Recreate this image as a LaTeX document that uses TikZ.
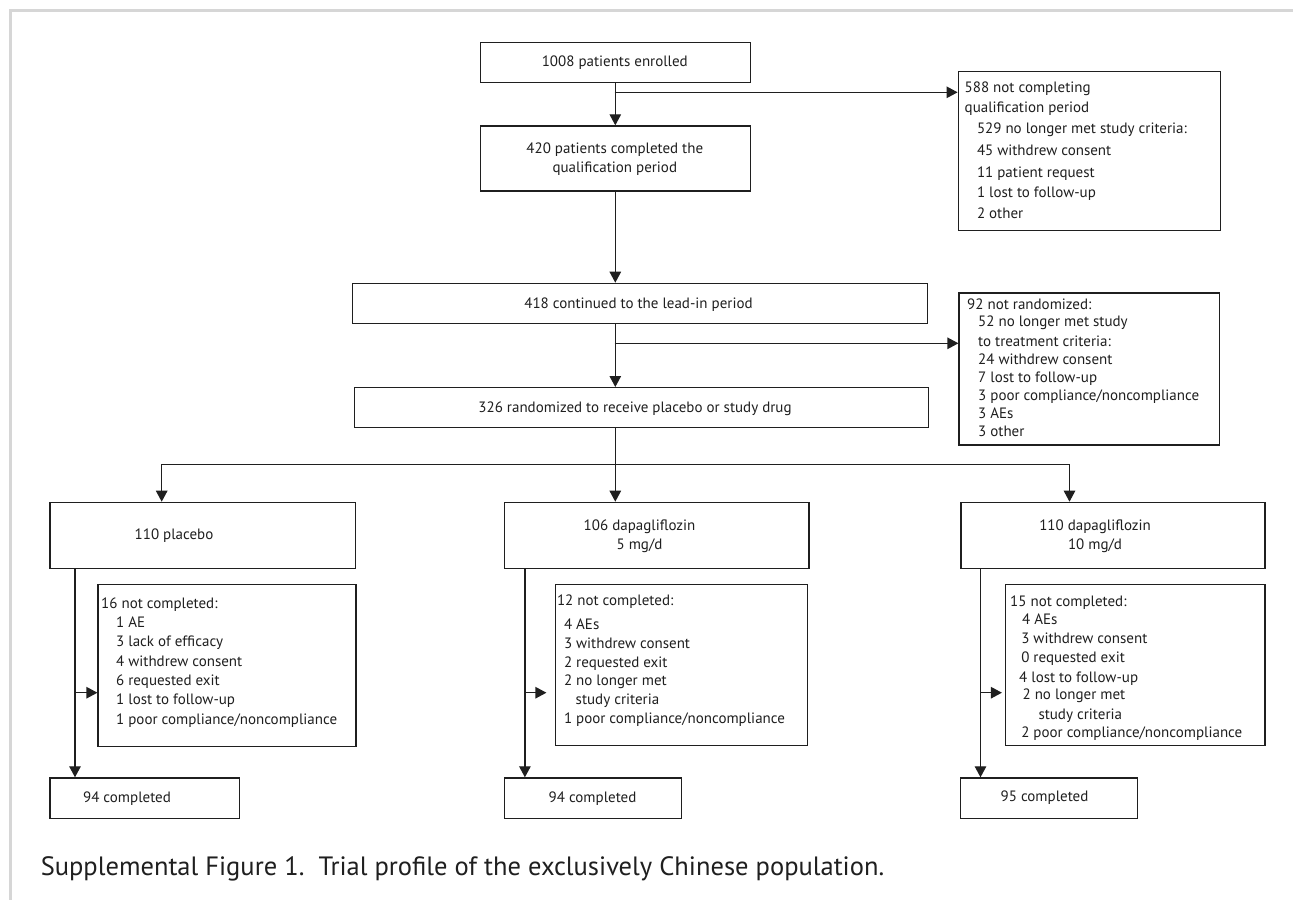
\documentclass[tikz,border=0pt]{standalone}
\usepackage{fontspec}
\setmainfont{PT Sans}
\usetikzlibrary{arrows.meta}
\definecolor{ink}{HTML}{1F1F1F}
\definecolor{framegray}{HTML}{D6D6D6}
\begin{document}
\begin{tikzpicture}[x=1pt,y=-1pt,
  box/.style={draw=ink, line width=1.2pt, inner sep=0pt, anchor=north west},
  ln/.style={anchor=base west, inner sep=0pt, font=\fontsize{15}{18}\selectfont, text=ink},
  ct/.style={anchor=base, inner sep=0pt, font=\fontsize{15}{18}\selectfont, text=ink},
  con/.style={draw=ink, line width=1.2pt},
  arr/.style={draw=ink, line width=1.2pt, -{Triangle[length=11pt,width=11.5pt]}},
  frameline/.style={draw=framegray, line width=3pt}]
\useasboundingbox (0,0) rectangle (1293,900);
\fill[white] (0,0) rectangle (1293,900);
\draw[frameline] (1293,10) -- (10,10) -- (10,900);

% ---------- boxes ----------
\node[box, minimum width=270pt, minimum height=40pt] (enr) at (479.7,41.7) {};
\node[box, minimum width=270pt, minimum height=65pt] (q420) at (479.7,125.3) {};
\node[box, minimum width=262pt, minimum height=159.3pt] (x588) at (957.6,70.7) {};
\node[box, minimum width=575.2pt, minimum height=40pt] (l418) at (351.6,282.7) {};
\node[box, minimum width=574.4pt, minimum height=40pt] (r326) at (353.6,387) {};
\node[box, minimum width=260.4pt, minimum height=152pt] (x92) at (958.4,292.3) {};
\node[box, minimum width=305.2pt, minimum height=66pt] (pla) at (49.3,501.7) {};
\node[box, minimum width=304.6pt, minimum height=66pt] (d5) at (503.7,501.7) {};
\node[box, minimum width=303.9pt, minimum height=66pt] (d10) at (960.4,501.7) {};
\node[box, minimum width=257.9pt, minimum height=161.7pt] (x16) at (97.4,584) {};
\node[box, minimum width=252.3pt, minimum height=161pt] (x12) at (554.7,584) {};
\node[box, minimum width=259.6pt, minimum height=161pt] (x15) at (1004.7,584) {};
\node[box, minimum width=189.5pt, minimum height=40.7pt] (c94a) at (49.3,777.3) {};
\node[box, minimum width=177.5pt, minimum height=40.7pt] (c94b) at (503.7,777.3) {};
\node[box, minimum width=177.2pt, minimum height=40.7pt] (c95) at (960,777.3) {};

% ---------- texts ----------
\node[ct] (tenr) at (614.8,66.5) {1008 patients enrolled};
\node[ct] (t420a) at (614.8,153.8) {420 patients completed the};
\node[ct] (t420b) at (614.8,172.2) {qualification period};

\node[ln] (t588a) at (964.5,92.2) {588 not completing};
\node[ln] (t588b) at (964.5,112.2) {qualification period};
\node[ln] (t588c) at (976.8,133.5) {529 no longer met study criteria:};
\node[ln] (t588d) at (976.8,155.5) {45 withdrew consent};
\node[ln] (t588e) at (976.8,177.2) {11 patient request};
\node[ln] (t588f) at (976.8,197.5) {1 lost to follow-up};
\node[ln] (t588g) at (976.8,218.5) {2 other};

\node[ct] (t418) at (638.5,308) {418 continued to the lead-in period};
\node[ct] (t326) at (635,412.8) {326 randomized to receive placebo or study drug};

\node[ln] (t92a) at (967,309.5) {92 not randomized:};
\node[ln] (t92b) at (978,326.2) {52 no longer met study};
\node[ln] (t92c) at (978,346.2) {to treatment criteria:};
\node[ln] (t92d) at (978,364.2) {24 withdrew consent};
\node[ln] (t92e) at (978,382.2) {7 lost to follow-up};
\node[ln] (t92f) at (978,400.8) {3 poor compliance/noncompliance};
\node[ln] (t92g) at (978,418.8) {3 AEs};
\node[ln] (t92h) at (978,436.5) {3 other};

\node[ct] (tpla) at (174,539.8) {110 placebo};
\node[ct] (td5a) at (639.5,530.5) {106 dapagliflozin};
\node[ct] (td5b) at (639.5,549.5) {5 mg/d};
\node[ct] (td10a) at (1095,530.5) {110 dapagliflozin};
\node[ct] (td10b) at (1095,549.5) {10 mg/d};

\node[ln] (t16a) at (101,608.8) {16 not completed:};
\node[ln] (t16b) at (116,627.2) {1 AE};
\node[ln] (t16c) at (116,646.5) {3 lack of efficacy};
\node[ln] (t16d) at (116,666.2) {4 withdrew consent};
\node[ln] (t16e) at (116,685.5) {6 requested exit};
\node[ln] (t16f) at (116,704.8) {1 lost to follow-up};
\node[ln] (t16g) at (116,724.8) {1 poor compliance/noncompliance};

\node[ln] (t12a) at (556.8,605.5) {12 not completed:};
\node[ln] (t12b) at (563.8,629.8) {4 AEs};
\node[ln] (t12c) at (563.8,648.8) {3 withdrew consent};
\node[ln] (t12d) at (563.8,667.8) {2 requested exit};
\node[ln] (t12e) at (563.8,685.8) {2 no longer met};
\node[ln] (t12f) at (575.5,704.8) {study criteria};
\node[ln] (t12g) at (563.8,723.8) {1 poor compliance/noncompliance};

\node[ln] (t15a) at (1010,606.2) {15 not completed:};
\node[ln] (t15b) at (1022,624.8) {4 AEs};
\node[ln] (t15c) at (1021.1,643.8) {3 withdrew consent};
\node[ln] (t15d) at (1021.1,662.2) {0 requested exit};
\node[ln] (t15e) at (1019,682.2) {4 lost to follow-up};
\node[ln] (t15f) at (1022.4,699.8) {2 no longer met};
\node[ln] (t15g) at (1038.3,719.8) {study criteria};
\node[ln] (t15h) at (1021.1,737.8) {2 poor compliance/noncompliance};

\node[ct] (tc94a) at (127,802.8) {94 completed};
\node[ct] (tc94b) at (592.5,802.8) {94 completed};
\node[ct] (tc95) at (1044.5,801.5) {95 completed};

\node[anchor=base west, inner sep=0pt, font=\fontsize{26.5}{30}\selectfont, text=ink] (cap) at (40.6,875) {Supplemental Figure 1.\ \ Trial profile of the exclusively Chinese population.};

% ---------- connectors ----------
\coordinate (j1) at (614.7,92.3);
\coordinate (j2) at (614.7,343.3);
\coordinate (sl) at (161.7,464.7);
\coordinate (sr) at (1069.5,464.7);
\coordinate (pb) at (75,692.7);
\coordinate (db) at (524.9,692.7);
\coordinate (eb) at (980.5,692.7);

\draw[arr] (enr.south) -- (q420.north);
\draw[arr] (j1) -- (j1 -| x588.west);
\draw[arr] (q420.south) -- (q420.south |- l418.north);
\draw[arr] (q420.south |- l418.south) -- (q420.south |- r326.north);
\draw[arr] (j2) -- (j2 -| x92.west);
\draw[arr] (q420.south |- r326.south) -- (q420.south |- d5.north);
\draw[arr] (q420.south |- sl) -- (sl) -- (sl |- pla.north);
\draw[arr] (q420.south |- sr) -- (sr) -- (sr |- d10.north);

\draw[arr] (pb |- pla.south) -- (pb |- c94a.north);
\draw[arr] (pb) -- (pb -| x16.west);
\draw[arr] (db |- d5.south) -- (db |- c94b.north);
\draw[arr, shorten >=8.3pt] (db) -- (db -| x12.west);
\draw[arr] (eb |- d10.south) -- (eb |- c95.north);
\draw[arr, shorten >=2.8pt] (eb) -- (eb -| x15.west);
\end{tikzpicture}
\end{document}
